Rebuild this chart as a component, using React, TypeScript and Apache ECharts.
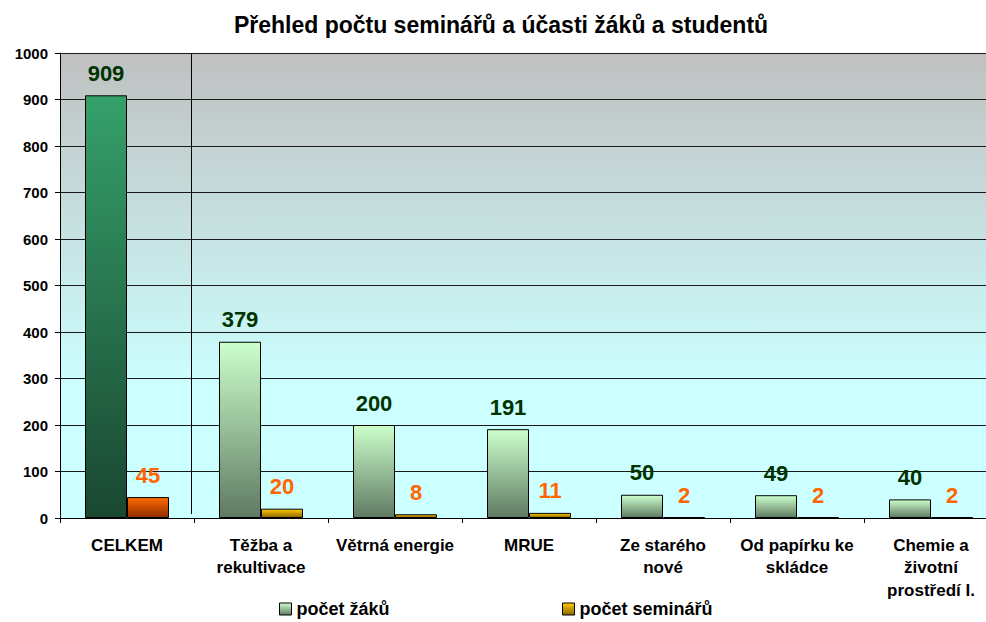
import React, { useEffect, useRef } from "react";
import * as echarts from "echarts";

const categories = [
  "CELKEM",
  "Těžba a\nrekultivace",
  "Větrná energie",
  "MRUE",
  "Ze starého\nnové",
  "Od papírku ke\nskládce",
  "Chemie a\nživotní\nprostředí I.",
];
const pocetZaku = [909, 379, 200, 191, 50, 49, 40];
const pocetSeminaru = [45, 20, 8, 11, 2, 2, 2];
const yTicks = { min: 0, max: 1000, interval: 100 };
const titleText = "Přehled počtu seminářů a účasti žáků a studentů";
const seriesNames = ["počet žáků", "počet seminářů"];

const FONT = "Arial, 'Liberation Sans', sans-serif";

const grad = (top: string, bottom: string) =>
  new echarts.graphic.LinearGradient(0, 0, 0, 1, [
    { offset: 0, color: top },
    { offset: 1, color: bottom },
  ]);

export default function App() {
  const ref = useRef<HTMLDivElement>(null);
  useEffect(() => {
    if (!ref.current) return;
    const chart = echarts.init(ref.current, undefined, { renderer: "svg" });
    const greenLight = grad("#ccffcc", "#5f7a62");
    const greenTotal = grad("#35a06a", "#1a4731");
    const yellow = grad("#ffcc00", "#8c6400");
    const orange = grad("#ff6a00", "#8f2e00");
    const legendText = { fontFamily: FONT, fontWeight: "bold", fontSize: 18, lineHeight: 18, color: "#000" };
    const option: any = {
      animation: false,
      backgroundColor: "#ffffff",
      textStyle: { fontFamily: FONT },
      grid: {
        left: 60,
        top: 53,
        right: 0,
        bottom: 104,
        show: true,
        borderWidth: 0,
        backgroundColor: new echarts.graphic.LinearGradient(0, 0, 0, 1, [
          { offset: 0, color: "#c0c0c0" },
          { offset: 0.72, color: "#ccffff" },
          { offset: 1, color: "#ccffff" },
        ]),
      },
      legend: [
        {
          left: 279,
          top: 600,
          padding: 0,
          itemWidth: 12,
          itemHeight: 12,
          icon: "rect",
          textStyle: legendText,
          data: [{ name: seriesNames[0], itemStyle: { color: greenLight, borderColor: "#000", borderWidth: 1 } }],
        },
        {
          left: 562,
          top: 600,
          padding: 0,
          itemWidth: 12,
          itemHeight: 12,
          icon: "rect",
          textStyle: legendText,
          data: [{ name: seriesNames[1], itemStyle: { color: yellow, borderColor: "#000", borderWidth: 1 } }],
        },
      ],
      xAxis: {
        type: "category",
        data: categories,
        axisLine: { lineStyle: { color: "#000", width: 1 } },
        axisTick: { show: true, length: 5, lineStyle: { color: "#000" } },
        axisLabel: {
          interval: 0,
          margin: 16,
          fontFamily: FONT,
          fontWeight: "bold",
          fontSize: 17,
          lineHeight: 22.5,
          color: "#000",
        },
      },
      yAxis: {
        type: "value",
        min: yTicks.min,
        max: yTicks.max,
        interval: yTicks.interval,
        axisLine: { show: true, lineStyle: { color: "#000" } },
        axisTick: { show: true, length: 5, lineStyle: { color: "#000" } },
        axisLabel: {
          fontFamily: FONT,
          fontWeight: "bold",
          fontSize: 15,
          color: "#000",
          margin: 12,
          formatter: (v: number) => String(v),
        },
        splitLine: { lineStyle: { color: "#1a1a1a", width: 1 } },
      },
      series: [
        {
          name: seriesNames[0],
          type: "bar",
          barWidth: 42,
          barGap: "0%",
          data: pocetZaku.map((v, i) => ({
            value: v,
            itemStyle: { color: i === 0 ? greenTotal : greenLight, borderColor: "#000", borderWidth: 1 },
          })),
          label: {
            show: true,
            position: "top",
            distance: 11,
            fontFamily: FONT,
            fontWeight: "bold",
            fontSize: 22,
            color: "#003300",
          },
        },
        {
          name: seriesNames[1],
          type: "bar",
          barWidth: 42,
          barGap: "0%",
          data: pocetSeminaru.map((v, i) => ({
            value: v,
            itemStyle: { color: i === 0 ? orange : yellow, borderColor: "#000", borderWidth: 1 },
          })),
          label: {
            show: true,
            position: "top",
            distance: 11,
            fontFamily: FONT,
            fontWeight: "bold",
            fontSize: 22,
            color: "#ff6600",
          },
        },
      ],
      graphic: [
        {
          type: "text",
          x: 501,
          y: 25,
          style: {
            text: titleText,
            fontFamily: FONT,
            fontWeight: "bold",
            fontSize: 23,
            fill: "#000",
            textAlign: "center",
            textVerticalAlign: "middle",
          },
        },
      ],
    };
    chart.setOption(option);
    const c0 = chart.convertToPixel({ xAxisIndex: 0 }, categories[0]) as number;
    const c1 = chart.convertToPixel({ xAxisIndex: 0 }, categories[1]) as number;
    const yTop = chart.convertToPixel({ yAxisIndex: 0 }, yTicks.max) as number;
    const yBot = chart.convertToPixel({ yAxisIndex: 0 }, yTicks.min) as number;
    const sepX = Math.round((c0 + c1) / 2) - 2.5;
    chart.setOption({
      graphic: [
        option.graphic[0],
        {
          type: "line",
          shape: { x1: sepX, y1: yTop, x2: sepX, y2: yBot - 4 },
          style: { stroke: "#000", lineWidth: 1 },
          z: 1,
        },
      ],
    });
    return () => chart.dispose();
  }, []);
  return (
    <div style={{ width: 986, height: 622, position: "absolute", left: 0, top: 0, overflow: "hidden" }}>
      <div ref={ref} style={{ width: 998, height: 622 }} />
    </div>
  );
}
